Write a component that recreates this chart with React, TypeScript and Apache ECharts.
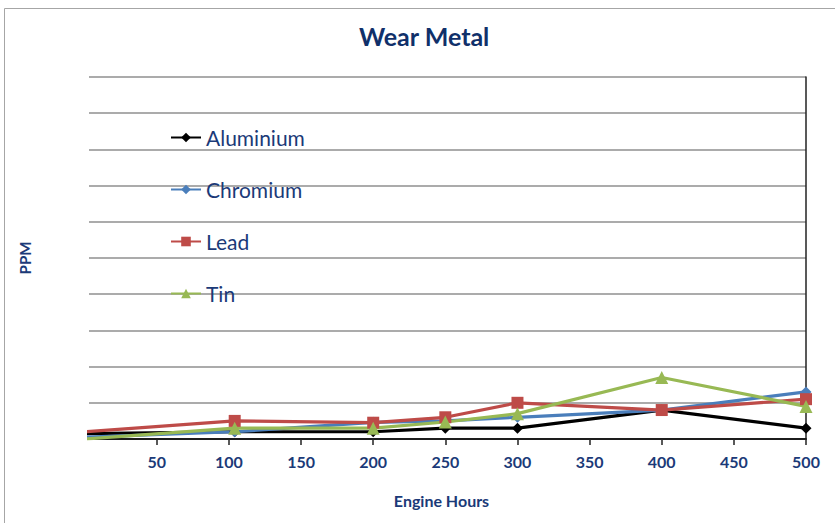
import React, { useEffect, useRef } from "react";
import * as echarts from "echarts";

const hours = [0, 104, 200, 250, 300, 400, 500];
const aluminium = [1.5, 2, 2, 3, 3, 8, 3];
const chromium = [0.5, 2, 4.6, 5, 6, 8, 13];
const lead = [2, 5, 4.5, 6, 10, 8, 11];
const tin = [0, 3, 3, 4.7, 7, 17, 9];
const xTicks = [50, 100, 150, 200, 250, 300, 350, 400, 450, 500];

const NAVY = "#1b3a78";

const pairs = (ys: number[]) => hours.map((h, i) => [h, ys[i]]);

export default function App() {
  const ref = useRef<HTMLDivElement>(null);
  useEffect(() => {
    if (!ref.current) return;
    const chart = echarts.init(ref.current, null, { renderer: "svg" });
    const mk = (name: string, data: number[], color: string, symbol: string, size: number) => ({
      name,
      type: "line",
      data: pairs(data),
      symbol,
      symbolSize: size,
      showSymbol: true,
      lineStyle: { color, width: 3.2 },
      itemStyle: { color },
      xAxisIndex: 0,
      yAxisIndex: 0,
    });
    chart.setOption({
      animation: false,
      textStyle: { fontFamily: "Lato" },
      graphic: [
        {
          type: "rect",
          shape: { x: 4.5, y: 8.5, width: 840, height: 530 },
          style: { fill: "none", stroke: "#a6a6a6", lineWidth: 1 },
          silent: true,
        },
      ],
      title: {
        text: "Wear Metal",
        left: 359,
        top: 23,
        padding: 0,
        textStyle: { fontFamily: "Lato", fontWeight: "bold", fontSize: 25, color: "#10306a" },
      },
      legend: {
        orient: "vertical",
        left: 170,
        top: 127,
        padding: 0,
        itemGap: 31,
        itemWidth: 30,
        itemHeight: 12,
        textStyle: { fontFamily: "Lato", fontSize: 21, lineHeight: 19, color: NAVY },
        data: ["Aluminium", "Chromium", "Lead", "Tin"],
      },
      grid: { left: 89, right: 29, top: 77, bottom: 84, containLabel: false },
      xAxis: [
        {
          type: "value",
          min: 3,
          max: 500,
          name: "Engine Hours",
          nameLocation: "middle",
          nameGap: 53,
          nameTextStyle: {
            fontFamily: "Lato",
            fontWeight: "bold",
            fontSize: 16,
            color: NAVY,
            padding: [0, 12, 0, 0],
          },
          axisLine: { show: true, lineStyle: { color: "#222", width: 1.5 } },
          axisTick: { show: true, customValues: xTicks, length: 6, lineStyle: { color: "#222", width: 1.5 } },
          axisLabel: {
            customValues: xTicks,
            fontFamily: "Lato",
            fontWeight: "bold",
            fontSize: 16,
            color: NAVY,
            margin: 14,
          },
          splitLine: { show: false },
        },
        {
          type: "value",
          position: "top",
          min: 3,
          max: 500,
          axisLine: { show: true, lineStyle: { color: "#111", width: 1.5 } },
          axisTick: { show: false },
          axisLabel: { show: false },
          splitLine: { show: false },
        },
      ],
      yAxis: [
        {
          type: "value",
          min: 0,
          max: 100,
          interval: 10,
          position: "left",
          name: "PPM",
          nameLocation: "middle",
          nameRotate: 90,
          nameGap: 57,
          nameTextStyle: {
            fontFamily: "Lato",
            fontWeight: "bold",
            fontSize: 15,
            color: NAVY,
          },
          axisLine: { show: false },
          axisTick: { show: false },
          axisLabel: { show: false },
          splitLine: { show: true, lineStyle: { color: "#8f8f8f", width: 1.5 } },
        },
        {
          type: "value",
          min: 0,
          max: 100,
          interval: 10,
          position: "right",
          axisLine: { show: true, onZero: false, lineStyle: { color: "#222", width: 1.5 } },
          axisTick: { show: false },
          axisLabel: { show: false },
          splitLine: { show: false },
        },
      ],
      series: [
        mk("Aluminium", aluminium, "#000000", "diamond", 11),
        mk("Chromium", chromium, "#4a7ebb", "diamond", 11),
        mk("Lead", lead, "#be4b48", "rect", 12),
        mk("Tin", tin, "#98b954", "triangle", 13),
      ],
    });
    return () => chart.dispose();
  }, []);
  return (
    <div
      ref={ref}
      style={{ position: "absolute", left: 0, top: 0, width: 835, height: 523, background: "#fff" }}
    />
  );
}
